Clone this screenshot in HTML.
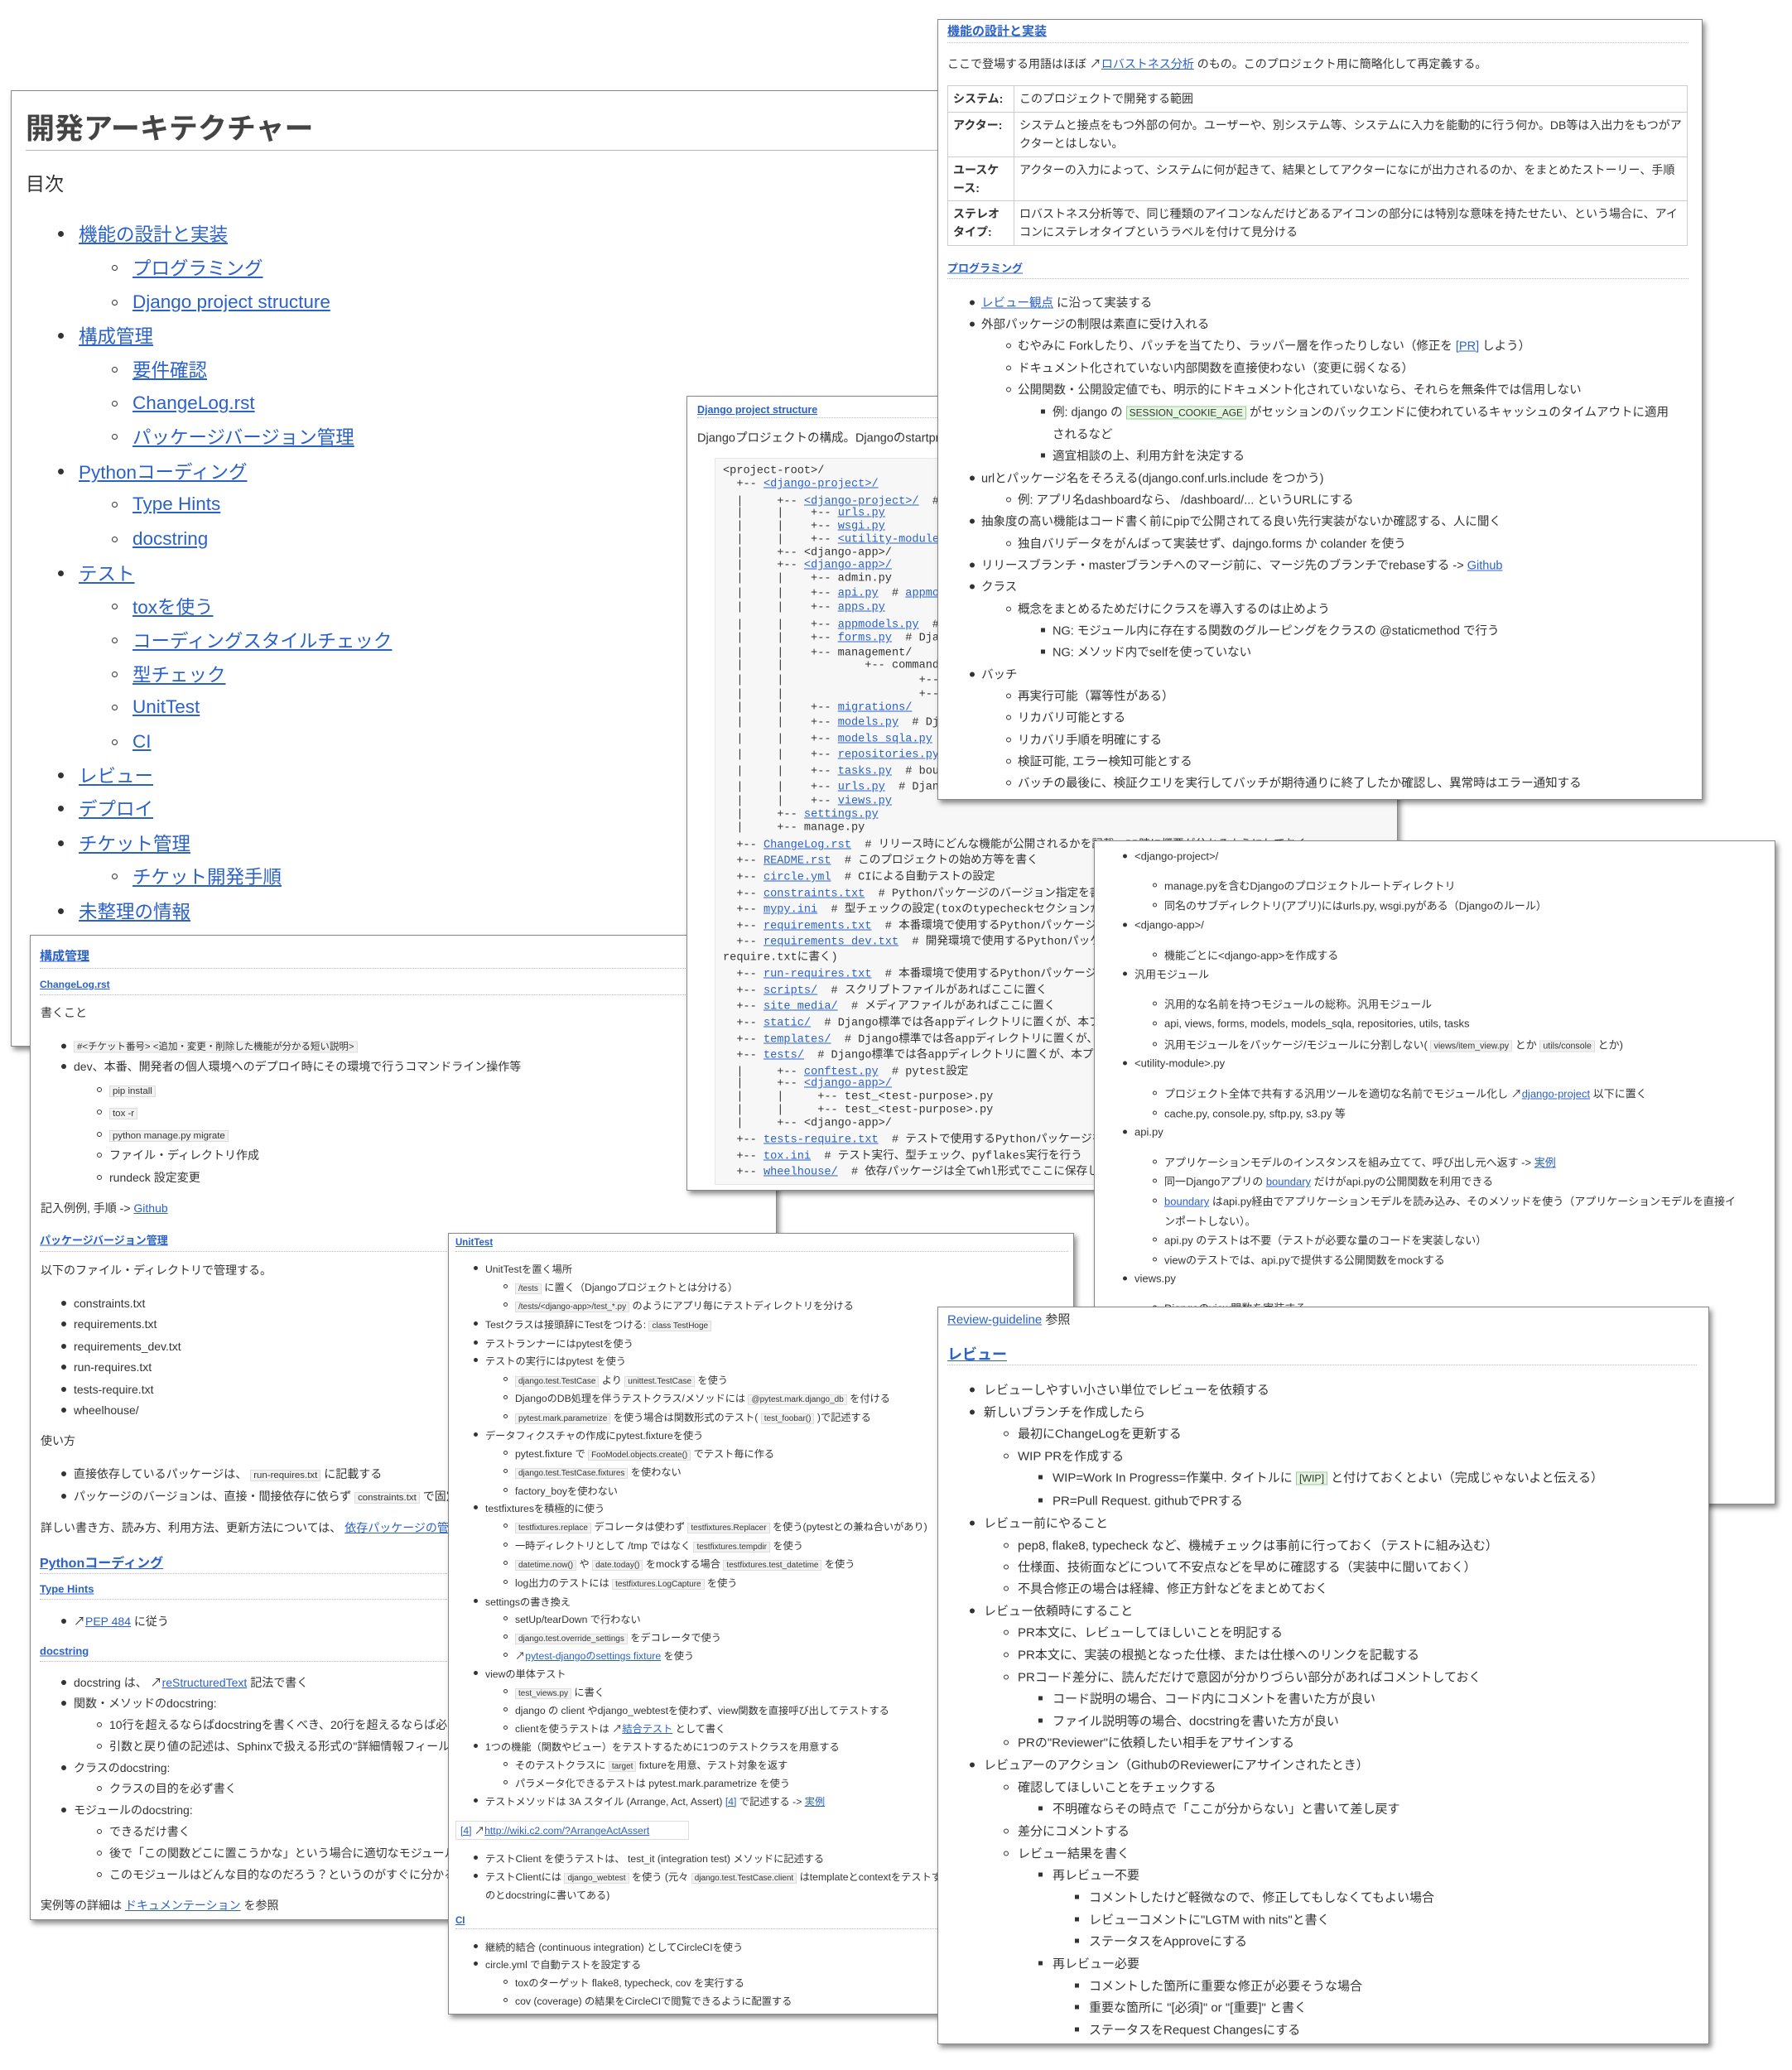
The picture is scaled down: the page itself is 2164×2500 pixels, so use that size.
<!DOCTYPE html>
<html><head><meta charset="utf-8">
<style>
*{margin:0;padding:0;box-sizing:border-box}
body{width:2164px;height:2500px;background:#fff;position:relative;overflow:hidden;font-family:"Liberation Sans","Noto Sans CJK JP",sans-serif;color:#333}
.p{position:absolute;background:#fff;border:1px solid #888;overflow:hidden;box-shadow:3px 4px 6px rgba(0,0,0,.45)}
.in{position:absolute}
.l{position:absolute;white-space:nowrap;transform:translateY(-50%)}
a{color:#2b62c8;text-decoration:underline}
i{position:absolute;top:50%;margin-top:-3px}
.d{width:6px;height:6px;border-radius:50%;background:#333}
.c{width:6px;height:6px;border-radius:50%;border:1px solid #333}
.s{width:5px;height:5px;background:#333}
.pm i{left:-25px;width:7px;height:7px;margin-top:-3px}
.pd i{left:-14px}.pk i{left:-15px}.pu i{left:-14px;width:5px;height:5px}.pj i{left:-14px;width:5px;height:5px}.pr i{left:-17px}
code{font-family:"Liberation Sans","Noto Sans CJK JP",sans-serif;background:#f2f2f2;border:1px solid #ddd;padding:0 3px;font-size:.82em}
.hr{position:absolute;height:0;border-top:1px dotted #bbb}
.h{font-weight:bold}
.cd{font-family:"Liberation Mono","Noto Sans CJK JP",monospace;font-size:13.6px;white-space:pre;color:#333}
.g{background:#e4f7e0;border:1px solid #9c9}
td{border:1px solid #ccc;vertical-align:top;padding:4px 6px;line-height:22px}
</style></head><body>

<!-- main page -->
<div class="p pm" style="left:13px;top:109px;width:1300px;height:1155px">
<div class="in" style="left:-13px;top:-109px;width:2164px;height:2500px">
<div class="l h" style="left:30px;top:152px;font-size:35px;color:#444">開発アーキテクチャー</div>
<div style="position:absolute;left:30px;top:180px;width:1300px;border-top:1px solid #bbb"></div>
<div class="l" style="left:30px;top:219px;font-size:23px">目次</div>
<div style="font-size:22.5px">
<div class="l" style="left:94px;top:281px"><i class="d"></i><a>機能の設計と実装</a></div>
<div class="l" style="left:159px;top:322px"><i class="c"></i><a>プログラミング</a></div>
<div class="l" style="left:159px;top:364px"><i class="c"></i><a>Django project structure</a></div>
<div class="l" style="left:94px;top:404px"><i class="d"></i><a>構成管理</a></div>
<div class="l" style="left:159px;top:445px"><i class="c"></i><a>要件確認</a></div>
<div class="l" style="left:159px;top:486px"><i class="c"></i><a>ChangeLog.rst</a></div>
<div class="l" style="left:159px;top:526px"><i class="c"></i><a>パッケージバージョン管理</a></div>
<div class="l" style="left:94px;top:568px"><i class="d"></i><a>Pythonコーディング</a></div>
<div class="l" style="left:159px;top:608px"><i class="c"></i><a>Type Hints</a></div>
<div class="l" style="left:159px;top:650px"><i class="c"></i><a>docstring</a></div>
<div class="l" style="left:94px;top:691px"><i class="d"></i><a>テスト</a></div>
<div class="l" style="left:159px;top:731px"><i class="c"></i><a>toxを使う</a></div>
<div class="l" style="left:159px;top:772px"><i class="c"></i><a>コーディングスタイルチェック</a></div>
<div class="l" style="left:159px;top:813px"><i class="c"></i><a>型チェック</a></div>
<div class="l" style="left:159px;top:853px"><i class="c"></i><a>UnitTest</a></div>
<div class="l" style="left:159px;top:895px"><i class="c"></i><a>CI</a></div>
<div class="l" style="left:94px;top:935px"><i class="d"></i><a>レビュー</a></div>
<div class="l" style="left:94px;top:975px"><i class="d"></i><a>デプロイ</a></div>
<div class="l" style="left:94px;top:1017px"><i class="d"></i><a>チケット管理</a></div>
<div class="l" style="left:159px;top:1057px"><i class="c"></i><a>チケット開発手順</a></div>
<div class="l" style="left:94px;top:1099px"><i class="d"></i><a>未整理の情報</a></div>
</div></div></div>

<!-- 構成管理 -->
<div class="p pk" style="left:36px;top:1129px;width:902px;height:1190px">
<div class="in" style="left:-36px;top:-1129px;width:2164px;height:2500px;font-size:14px">
<div class="l h" style="left:47px;top:1153px;font-size:15px"><a>構成管理</a></div>
<div class="hr" style="left:47px;top:1168px;width:890px"></div>
<div class="l h" style="left:47px;top:1188px;font-size:12px"><a>ChangeLog.rst</a></div>
<div class="hr" style="left:47px;top:1200px;width:890px"></div>
<div class="l" style="left:48px;top:1222px">書くこと</div>
<div class="l" style="left:88px;top:1262px"><i class="d"></i><code>#&lt;チケット番号&gt; &lt;追加・変更・削除した機能が分かる短い説明&gt;</code></div>
<div class="l" style="left:88px;top:1287px"><i class="d"></i>dev、本番、開発者の個人環境へのデプロイ時にその環境で行うコマンドライン操作等</div>
<div class="l" style="left:131px;top:1315px"><i class="c"></i><code>pip install</code></div>
<div class="l" style="left:131px;top:1342px"><i class="c"></i><code>tox -r</code></div>
<div class="l" style="left:131px;top:1369px"><i class="c"></i><code>python manage.py migrate</code></div>
<div class="l" style="left:131px;top:1394px"><i class="c"></i>ファイル・ディレクトリ作成</div>
<div class="l" style="left:131px;top:1421px"><i class="c"></i>rundeck 設定変更</div>
<div class="l" style="left:48px;top:1458px">記入例例, 手順 -&gt; <a>Github</a></div>
<div class="l h" style="left:47px;top:1496px;font-size:13px"><a>パッケージバージョン管理</a></div>
<div class="hr" style="left:47px;top:1510px;width:890px"></div>
<div class="l" style="left:48px;top:1533px">以下のファイル・ディレクトリで管理する。</div>
<div class="l" style="left:88px;top:1573px"><i class="d"></i>constraints.txt</div>
<div class="l" style="left:88px;top:1598px"><i class="d"></i>requirements.txt</div>
<div class="l" style="left:88px;top:1625px"><i class="d"></i>requirements_dev.txt</div>
<div class="l" style="left:88px;top:1650px"><i class="d"></i>run-requires.txt</div>
<div class="l" style="left:88px;top:1677px"><i class="d"></i>tests-require.txt</div>
<div class="l" style="left:88px;top:1702px"><i class="d"></i>wheelhouse/</div>
<div class="l" style="left:48px;top:1739px">使い方</div>
<div class="l" style="left:88px;top:1779px"><i class="d"></i>直接依存しているパッケージは、 <code>run-requires.txt</code> に記載する</div>
<div class="l" style="left:88px;top:1806px"><i class="d"></i>パッケージのバージョンは、直接・間接依存に依らず <code>constraints.txt</code> で固定する</div>
<div class="l" style="left:48px;top:1844px">詳しい書き方、読み方、利用方法、更新方法については、 <a>依存パッケージの管理</a> を参照</div>
<div class="l h" style="left:47px;top:1885px;font-size:16px"><a>Pythonコーディング</a></div>
<div class="hr" style="left:47px;top:1899px;width:890px"></div>
<div class="l h" style="left:47px;top:1918px;font-size:13px"><a>Type Hints</a></div>
<div class="hr" style="left:47px;top:1930px;width:890px"></div>
<div class="l" style="left:88px;top:1957px"><i class="d"></i>↗<a>PEP 484</a> に従う</div>
<div class="l h" style="left:47px;top:1993px;font-size:13px"><a>docstring</a></div>
<div class="hr" style="left:47px;top:2005px;width:890px"></div>
<div class="l" style="left:88px;top:2031px"><i class="d"></i>docstring は、 ↗<a>reStructuredText</a> 記法で書く</div>
<div class="l" style="left:88px;top:2056px"><i class="d"></i>関数・メソッドのdocstring:</div>
<div class="l" style="left:131px;top:2082px"><i class="c"></i>10行を超えるならばdocstringを書くべき、20行を超えるならば必ず書く</div>
<div class="l" style="left:131px;top:2108px"><i class="c"></i>引数と戻り値の記述は、Sphinxで扱える形式の"詳細情報フィールド"で書く</div>
<div class="l" style="left:88px;top:2134px"><i class="d"></i>クラスのdocstring:</div>
<div class="l" style="left:131px;top:2159px"><i class="c"></i>クラスの目的を必ず書く</div>
<div class="l" style="left:88px;top:2185px"><i class="d"></i>モジュールのdocstring:</div>
<div class="l" style="left:131px;top:2211px"><i class="c"></i>できるだけ書く</div>
<div class="l" style="left:131px;top:2237px"><i class="c"></i>後で「この関数どこに置こうかな」という場合に適切なモジュールを選べるように</div>
<div class="l" style="left:131px;top:2263px"><i class="c"></i>このモジュールはどんな目的なのだろう？というのがすぐに分かるように</div>
<div class="l" style="left:48px;top:2300px">実例等の詳細は <a>ドキュメンテーション</a> を参照</div>
</div></div>

<!-- Django project structure -->
<div class="p" style="left:829px;top:478px;width:859px;height:960px">
<div class="in" style="left:-829px;top:-478px;width:2164px;height:2500px">
<div class="l h" style="left:841px;top:494px;font-size:12.5px"><a>Django project structure</a></div>
<div class="hr" style="left:841px;top:503px;width:840px"></div>
<div class="l" style="left:841px;top:527px;font-size:14.5px">Djangoプロジェクトの構成。Djangoのstartprojectで作成される構成をベースにしている。</div>
<div style="position:absolute;left:862px;top:552px;width:840px;height:878px;background:#f7f7f7;border:1px solid #e6e6e6"></div>
<div class="l cd" style="left:872px;top:568px">&lt;project-root&gt;/</div>
<div class="l cd" style="left:872px;top:584px">  +-- <a>&lt;django-project&gt;/</a></div>
<div class="l cd" style="left:872px;top:602px">  |     +-- <a>&lt;django-project&gt;/</a>  # プロジェクト設定</div>
<div class="l cd" style="left:872px;top:619px">  |     |    +-- <a>urls.py</a></div>
<div class="l cd" style="left:872px;top:635px">  |     |    +-- <a>wsgi.py</a></div>
<div class="l cd" style="left:872px;top:651px">  |     |    +-- <a>&lt;utility-module&gt;.py</a></div>
<div class="l cd" style="left:872px;top:667px">  |     +-- &lt;django-app&gt;/</div>
<div class="l cd" style="left:872px;top:682px">  |     +-- <a>&lt;django-app&gt;/</a></div>
<div class="l cd" style="left:872px;top:698px">  |     |    +-- admin.py</div>
<div class="l cd" style="left:872px;top:716px">  |     |    +-- <a>api.py</a>  # <a>appmodels</a></div>
<div class="l cd" style="left:872px;top:733px">  |     |    +-- <a>apps.py</a></div>
<div class="l cd" style="left:872px;top:751px">  |     |    +-- <a>appmodels.py</a>  # アプリケーションモデル</div>
<div class="l cd" style="left:872px;top:770px">  |     |    +-- <a>forms.py</a>  # Django Form</div>
<div class="l cd" style="left:872px;top:788px">  |     |    +-- management/</div>
<div class="l cd" style="left:872px;top:803px">  |     |            +-- commands/</div>
<div class="l cd" style="left:872px;top:821px">  |     |                    +-- __init__.py</div>
<div class="l cd" style="left:872px;top:838px">  |     |                    +-- command.py</div>
<div class="l cd" style="left:872px;top:854px">  |     |    +-- <a>migrations/</a></div>
<div class="l cd" style="left:872px;top:872px">  |     |    +-- <a>models.py</a>  # Django Model</div>
<div class="l cd" style="left:872px;top:892px">  |     |    +-- <a>models_sqla.py</a></div>
<div class="l cd" style="left:872px;top:911px">  |     |    +-- <a>repositories.py</a></div>
<div class="l cd" style="left:872px;top:931px">  |     |    +-- <a>tasks.py</a>  # boundary</div>
<div class="l cd" style="left:872px;top:950px">  |     |    +-- <a>urls.py</a>  # Django URL</div>
<div class="l cd" style="left:872px;top:967px">  |     |    +-- <a>views.py</a></div>
<div class="l cd" style="left:872px;top:983px">  |     +-- <a>settings.py</a></div>
<div class="l cd" style="left:872px;top:999px">  |     +-- manage.py</div>
<div class="l cd" style="left:872px;top:1017px">  +-- <a>ChangeLog.rst</a>  # リリース時にどんな機能が公開されるかを記載。PR時に概要が分かるようにしておく</div>
<div class="l cd" style="left:872px;top:1036px">  +-- <a>README.rst</a>  # このプロジェクトの始め方等を書く</div>
<div class="l cd" style="left:872px;top:1056px">  +-- <a>circle.yml</a>  # CIによる自動テストの設定</div>
<div class="l cd" style="left:872px;top:1076px">  +-- <a>constraints.txt</a>  # Pythonパッケージのバージョン指定を書く</div>
<div class="l cd" style="left:872px;top:1095px">  +-- <a>mypy.ini</a>  # 型チェックの設定(toxのtypecheckセクションから参照)</div>
<div class="l cd" style="left:872px;top:1115px">  +-- <a>requirements.txt</a>  # 本番環境で使用するPythonパッケージを書く</div>
<div class="l cd" style="left:872px;top:1134px">  +-- <a>requirements_dev.txt</a>  # 開発環境で使用するPythonパッケージを書く(tests-</div>
<div class="l cd" style="left:872px;top:1153px">require.txtに書く)</div>
<div class="l cd" style="left:872px;top:1173px">  +-- <a>run-requires.txt</a>  # 本番環境で使用するPythonパッケージを書く</div>
<div class="l cd" style="left:872px;top:1193px">  +-- <a>scripts/</a>  # スクリプトファイルがあればここに置く</div>
<div class="l cd" style="left:872px;top:1212px">  +-- <a>site_media/</a>  # メディアファイルがあればここに置く</div>
<div class="l cd" style="left:872px;top:1232px">  +-- <a>static/</a>  # Django標準では各appディレクトリに置くが、本プロジェクトではここに置く</div>
<div class="l cd" style="left:872px;top:1252px">  +-- <a>templates/</a>  # Django標準では各appディレクトリに置くが、本プロジェクトではここに置く</div>
<div class="l cd" style="left:872px;top:1271px">  +-- <a>tests/</a>  # Django標準では各appディレクトリに置くが、本プロジェクトではここに置く</div>
<div class="l cd" style="left:872px;top:1291px">  |     +-- <a>conftest.py</a>  # pytest設定</div>
<div class="l cd" style="left:872px;top:1308px">  |     +-- <a>&lt;django-app&gt;/</a></div>
<div class="l cd" style="left:872px;top:1324px">  |     |     +-- test_&lt;test-purpose&gt;.py</div>
<div class="l cd" style="left:872px;top:1340px">  |     |     +-- test_&lt;test-purpose&gt;.py</div>
<div class="l cd" style="left:872px;top:1356px">  |     +-- &lt;django-app&gt;/</div>
<div class="l cd" style="left:872px;top:1373px">  +-- <a>tests-require.txt</a>  # テストで使用するPythonパッケージを書く</div>
<div class="l cd" style="left:872px;top:1393px">  +-- <a>tox.ini</a>  # テスト実行、型チェック、pyflakes実行を行う</div>
<div class="l cd" style="left:872px;top:1412px">  +-- <a>wheelhouse/</a>  # 依存パッケージは全てwhl形式でここに保存しリポジトリに含める</div>
</div></div>

<!-- 機能の設計と実装 -->
<div class="p pd" style="left:1132px;top:23px;width:924px;height:943px">
<div class="in" style="left:-1132px;top:-23px;width:2164px;height:2500px;font-size:14.5px">
<div class="l h" style="left:1143px;top:36px;font-size:15px"><a>機能の設計と実装</a></div>
<div class="hr" style="left:1143px;top:50px;width:895px"></div>
<div class="l" style="left:1143px;top:76px;font-size:14px">ここで登場する用語はほぼ ↗<a>ロバストネス分析</a> のもの。このプロジェクト用に簡略化して再定義する。</div>
<table style="position:absolute;left:1143px;top:102px;width:894px;border-collapse:collapse;font-size:14px">
<tr style="height:32px"><td class="h" style="width:80px">システム:</td><td>このプロジェクトで開発する範囲</td></tr>
<tr style="height:54px"><td class="h">アクター:</td><td>システムと接点をもつ外部の何か。ユーザーや、別システム等、システムに入力を能動的に行う何か。DB等は入出力をもつがアクターとはしない。</td></tr>
<tr style="height:53px"><td class="h">ユースケース:</td><td>アクターの入力によって、システムに何が起きて、結果としてアクターになにが出力されるのか、をまとめたストーリー、手順</td></tr>
<tr style="height:54px"><td class="h">ステレオタイプ:</td><td>ロバストネス分析等で、同じ種類のアイコンなんだけどあるアイコンの部分には特別な意味を持たせたい、という場合に、アイコンにステレオタイプというラベルを付けて見分ける</td></tr>
</table>
<div class="l h" style="left:1143px;top:322px;font-size:13px"><a>プログラミング</a></div>
<div class="hr" style="left:1143px;top:335px;width:895px"></div>
<div class="l" style="left:1184px;top:364px"><i class="d"></i><a>レビュー観点</a> に沿って実装する</div>
<div class="l" style="left:1184px;top:390px"><i class="d"></i>外部パッケージの制限は素直に受け入れる</div>
<div class="l" style="left:1228px;top:416px"><i class="c"></i>むやみに Forkしたり、パッチを当てたり、ラッパー層を作ったりしない（修正を <a>[PR]</a> しよう）</div>
<div class="l" style="left:1228px;top:443px"><i class="c"></i>ドキュメント化されていない内部関数を直接使わない（変更に弱くなる）</div>
<div class="l" style="left:1228px;top:469px"><i class="c"></i>公開関数・公開設定値でも、明示的にドキュメント化されていないなら、それらを無条件では信用しない</div>
<div class="l" style="left:1270px;top:496px"><i class="s"></i>例: django の <code class="g">SESSION_COOKIE_AGE</code> がセッションのバックエンドに使われているキャッシュのタイムアウトに適用</div>
<div class="l" style="left:1270px;top:523px">されるなど</div>
<div class="l" style="left:1270px;top:549px"><i class="s"></i>適宜相談の上、利用方針を決定する</div>
<div class="l" style="left:1184px;top:576px"><i class="d"></i>urlとパッケージ名をそろえる(django.conf.urls.include をつかう)</div>
<div class="l" style="left:1228px;top:602px"><i class="c"></i>例: アプリ名dashboardなら、 /dashboard/... というURLにする</div>
<div class="l" style="left:1184px;top:628px"><i class="d"></i>抽象度の高い機能はコード書く前にpipで公開されてる良い先行実装がないか確認する、人に聞く</div>
<div class="l" style="left:1228px;top:655px"><i class="c"></i>独自バリデータをがんばって実装せず、dajngo.forms か colander を使う</div>
<div class="l" style="left:1184px;top:681px"><i class="d"></i>リリースブランチ・masterブランチへのマージ前に、マージ先のブランチでrebaseする -&gt; <a>Github</a></div>
<div class="l" style="left:1184px;top:707px"><i class="d"></i>クラス</div>
<div class="l" style="left:1228px;top:734px"><i class="c"></i>概念をまとめるためだけにクラスを導入するのは止めよう</div>
<div class="l" style="left:1270px;top:760px"><i class="s"></i>NG: モジュール内に存在する関数のグルーピングをクラスの @staticmethod で行う</div>
<div class="l" style="left:1270px;top:786px"><i class="s"></i>NG: メソッド内でselfを使っていない</div>
<div class="l" style="left:1184px;top:813px"><i class="d"></i>バッチ</div>
<div class="l" style="left:1228px;top:839px"><i class="c"></i>再実行可能（冪等性がある）</div>
<div class="l" style="left:1228px;top:865px"><i class="c"></i>リカバリ可能とする</div>
<div class="l" style="left:1228px;top:892px"><i class="c"></i>リカバリ手順を明確にする</div>
<div class="l" style="left:1228px;top:918px"><i class="c"></i>検証可能, エラー検知可能とする</div>
<div class="l" style="left:1228px;top:944px"><i class="c"></i>バッチの最後に、検証クエリを実行してバッチが期待通りに終了したか確認し、異常時はエラー通知する</div>
</div></div>

<!-- django-project panel -->
<div class="p pj" style="left:1321px;top:1015px;width:823px;height:802px">
<div class="in" style="left:-1321px;top:-1015px;width:2164px;height:2500px;font-size:13px">
<div class="l" style="left:1369px;top:1033px"><i class="d"></i>&lt;django-project&gt;/</div>
<div class="l" style="left:1405px;top:1068px"><i class="c"></i>manage.pyを含むDjangoのプロジェクトルートディレクトリ</div>
<div class="l" style="left:1405px;top:1092px"><i class="c"></i>同名のサブディレクトリ(アプリ)にはurls.py, wsgi.pyがある（Djangoのルール）</div>
<div class="l" style="left:1369px;top:1116px"><i class="d"></i>&lt;django-app&gt;/</div>
<div class="l" style="left:1405px;top:1152px"><i class="c"></i>機能ごとに&lt;django-app&gt;を作成する</div>
<div class="l" style="left:1369px;top:1175px"><i class="d"></i>汎用モジュール</div>
<div class="l" style="left:1405px;top:1211px"><i class="c"></i>汎用的な名前を持つモジュールの総称。汎用モジュール</div>
<div class="l" style="left:1405px;top:1235px"><i class="c"></i>api, views, forms, models, models_sqla, repositories, utils, tasks</div>
<div class="l" style="left:1405px;top:1260px"><i class="c"></i>汎用モジュールをパッケージ/モジュールに分割しない( <code>views/item_view.py</code> とか <code>utils/console</code> とか)</div>
<div class="l" style="left:1369px;top:1283px"><i class="d"></i>&lt;utility-module&gt;.py</div>
<div class="l" style="left:1405px;top:1319px"><i class="c"></i>プロジェクト全体で共有する汎用ツールを適切な名前でモジュール化し ↗<a>django-project</a> 以下に置く</div>
<div class="l" style="left:1405px;top:1343px"><i class="c"></i>cache.py, console.py, sftp.py, s3.py 等</div>
<div class="l" style="left:1369px;top:1366px"><i class="d"></i>api.py</div>
<div class="l" style="left:1405px;top:1402px"><i class="c"></i>アプリケーションモデルのインスタンスを組み立てて、呼び出し元へ返す -&gt; <a>実例</a></div>
<div class="l" style="left:1405px;top:1425px"><i class="c"></i>同一Djangoアプリの <a>boundary</a> だけがapi.pyの公開関数を利用できる</div>
<div class="l" style="left:1405px;top:1449px"><i class="c"></i><a>boundary</a> はapi.py経由でアプリケーションモデルを読み込み、そのメソッドを使う（アプリケーションモデルを直接イ</div>
<div class="l" style="left:1405px;top:1473px">ンポートしない）。</div>
<div class="l" style="left:1405px;top:1496px"><i class="c"></i>api.py のテストは不要（テストが必要な量のコードを実装しない）</div>
<div class="l" style="left:1405px;top:1520px"><i class="c"></i>viewのテストでは、api.pyで提供する公開関数をmockする</div>
<div class="l" style="left:1369px;top:1543px"><i class="d"></i>views.py</div>
<div class="l" style="left:1405px;top:1578px"><i class="c"></i>Djangoのview関数を実装する</div>
</div></div>

<!-- UnitTest -->
<div class="p pu" style="left:541px;top:1489px;width:756px;height:944px">
<div class="in" style="left:-541px;top:-1489px;width:2164px;height:2500px;font-size:12.2px">
<div class="l h" style="left:549px;top:1500px;font-size:11.5px"><a>UnitTest</a></div>
<div class="hr" style="left:549px;top:1510px;width:740px"></div>
<div class="l" style="left:585px;top:1531px"><i class="d"></i>UnitTestを置く場所</div>
<div class="l" style="left:621px;top:1553px"><i class="c"></i><code>/tests</code> に置く（Djangoプロジェクトとは分ける）</div>
<div class="l" style="left:621px;top:1575px"><i class="c"></i><code>/tests/&lt;django-app&gt;/test_*.py</code> のようにアプリ毎にテストディレクトリを分ける</div>
<div class="l" style="left:585px;top:1598px"><i class="d"></i>Testクラスは接頭辞にTestをつける: <code>class TestHoge</code></div>
<div class="l" style="left:585px;top:1621px"><i class="d"></i>テストランナーにはpytestを使う</div>
<div class="l" style="left:585px;top:1642px"><i class="d"></i>テストの実行にはpytest を使う</div>
<div class="l" style="left:621px;top:1665px"><i class="c"></i><code>django.test.TestCase</code> より <code>unittest.TestCase</code> を使う</div>
<div class="l" style="left:621px;top:1687px"><i class="c"></i>DjangoのDB処理を伴うテストクラス/メソッドには <code>@pytest.mark.django_db</code> を付ける</div>
<div class="l" style="left:621px;top:1710px"><i class="c"></i><code>pytest.mark.parametrize</code> を使う場合は関数形式のテスト( <code>test_foobar()</code> )で記述する</div>
<div class="l" style="left:585px;top:1732px"><i class="d"></i>データフィクスチャの作成にpytest.fixtureを使う</div>
<div class="l" style="left:621px;top:1754px"><i class="c"></i>pytest.fixture で <code>FooModel.objects.create()</code> でテスト毎に作る</div>
<div class="l" style="left:621px;top:1776px"><i class="c"></i><code>django.test.TestCase.fixtures</code> を使わない</div>
<div class="l" style="left:621px;top:1799px"><i class="c"></i>factory_boyを使わない</div>
<div class="l" style="left:585px;top:1820px"><i class="d"></i>testfixturesを積極的に使う</div>
<div class="l" style="left:621px;top:1842px"><i class="c"></i><code>testfixtures.replace</code> デコレータは使わず <code>testfixtures.Replacer</code> を使う(pytestとの兼ね合いがあり)</div>
<div class="l" style="left:621px;top:1865px"><i class="c"></i>一時ディレクトリとして /tmp ではなく <code>testfixtures.tempdir</code> を使う</div>
<div class="l" style="left:621px;top:1887px"><i class="c"></i><code>datetime.now()</code> や <code>date.today()</code> をmockする場合 <code>testfixtures.test_datetime</code> を使う</div>
<div class="l" style="left:621px;top:1910px"><i class="c"></i>log出力のテストには <code>testfixtures.LogCapture</code> を使う</div>
<div class="l" style="left:585px;top:1933px"><i class="d"></i>settingsの書き換え</div>
<div class="l" style="left:621px;top:1954px"><i class="c"></i>setUp/tearDown で行わない</div>
<div class="l" style="left:621px;top:1976px"><i class="c"></i><code>django.test.override_settings</code> をデコレータで使う</div>
<div class="l" style="left:621px;top:1998px"><i class="c"></i>↗<a>pytest-djangoのsettings fixture</a> を使う</div>
<div class="l" style="left:585px;top:2020px"><i class="d"></i>viewの単体テスト</div>
<div class="l" style="left:621px;top:2042px"><i class="c"></i><code>test_views.py</code> に書く</div>
<div class="l" style="left:621px;top:2064px"><i class="c"></i>django の client やdjango_webtestを使わず、view関数を直接呼び出してテストする</div>
<div class="l" style="left:621px;top:2086px"><i class="c"></i>clientを使うテストは ↗<a>結合テスト</a> として書く</div>
<div class="l" style="left:585px;top:2108px"><i class="d"></i>1つの機能（関数やビュー）をテストするために1つのテストクラスを用意する</div>
<div class="l" style="left:621px;top:2130px"><i class="c"></i>そのテストクラスに <code>target</code> fixtureを用意、テスト対象を返す</div>
<div class="l" style="left:621px;top:2152px"><i class="c"></i>パラメータ化できるテストは pytest.mark.parametrize を使う</div>
<div class="l" style="left:585px;top:2174px"><i class="d"></i>テストメソッドは 3A スタイル (Arrange, Act, Assert) <a>[4]</a> で記述する -&gt; <a>実例</a></div>
<div style="position:absolute;left:549px;top:2198px;width:282px;height:23px;border:1px solid #ddd"></div>
<div class="l" style="left:555px;top:2209px"><a>[4]</a> ↗<a>http://wiki.c2.com/?ArrangeActAssert</a></div>
<div class="l" style="left:585px;top:2243px"><i class="d"></i>テストClient を使うテストは、 test_it (integration test) メソッドに記述する</div>
<div class="l" style="left:585px;top:2265px"><i class="d"></i>テストClientには <code>django_webtest</code> を使う (元々 <code>django.test.TestCase.client</code> はtemplateとcontextをテストするため</div>
<div class="l" style="left:585px;top:2287px">のとdocstringに書いてある)</div>
<div class="l h" style="left:549px;top:2319px;font-size:11.5px"><a>CI</a></div>
<div class="hr" style="left:549px;top:2328px;width:740px"></div>
<div class="l" style="left:585px;top:2350px"><i class="d"></i>継続的結合 (continuous integration) としてCircleCIを使う</div>
<div class="l" style="left:585px;top:2371px"><i class="d"></i>circle.yml で自動テストを設定する</div>
<div class="l" style="left:621px;top:2393px"><i class="c"></i>toxのターゲット flake8, typecheck, cov を実行する</div>
<div class="l" style="left:621px;top:2415px"><i class="c"></i>cov (coverage) の結果をCircleCIで閲覧できるように配置する</div>
</div></div>

<!-- Review -->
<div class="p pr" style="left:1132px;top:1578px;width:932px;height:891px">
<div class="in" style="left:-1132px;top:-1578px;width:2164px;height:2500px;font-size:15px">
<div class="l" style="left:1143px;top:1592px;font-size:15px"><a>Review-guideline</a> 参照</div>
<div class="l h" style="left:1143px;top:1634px;font-size:18px"><a>レビュー</a></div>
<div class="hr" style="left:1143px;top:1647px;width:905px"></div>
<div class="l" style="left:1187px;top:1677px"><i class="d"></i>レビューしやすい小さい単位でレビューを依頼する</div>
<div class="l" style="left:1187px;top:1704px"><i class="d"></i>新しいブランチを作成したら</div>
<div class="l" style="left:1228px;top:1730px"><i class="c"></i>最初にChangeLogを更新する</div>
<div class="l" style="left:1228px;top:1757px"><i class="c"></i>WIP PRを作成する</div>
<div class="l" style="left:1270px;top:1783px"><i class="s"></i>WIP=Work In Progress=作業中. タイトルに <code class="g">[WIP]</code> と付けておくとよい（完成じゃないよと伝える）</div>
<div class="l" style="left:1270px;top:1811px"><i class="s"></i>PR=Pull Request. githubでPRする</div>
<div class="l" style="left:1187px;top:1838px"><i class="d"></i>レビュー前にやること</div>
<div class="l" style="left:1228px;top:1865px"><i class="c"></i>pep8, flake8, typecheck など、機械チェックは事前に行っておく（テストに組み込む）</div>
<div class="l" style="left:1228px;top:1891px"><i class="c"></i>仕様面、技術面などについて不安点などを早めに確認する（実装中に聞いておく）</div>
<div class="l" style="left:1228px;top:1917px"><i class="c"></i>不具合修正の場合は経緯、修正方針などをまとめておく</div>
<div class="l" style="left:1187px;top:1944px"><i class="d"></i>レビュー依頼時にすること</div>
<div class="l" style="left:1228px;top:1970px"><i class="c"></i>PR本文に、レビューしてほしいことを明記する</div>
<div class="l" style="left:1228px;top:1997px"><i class="c"></i>PR本文に、実装の根拠となった仕様、または仕様へのリンクを記載する</div>
<div class="l" style="left:1228px;top:2024px"><i class="c"></i>PRコード差分に、読んだだけで意図が分かりづらい部分があればコメントしておく</div>
<div class="l" style="left:1270px;top:2050px"><i class="s"></i>コード説明の場合、コード内にコメントを書いた方が良い</div>
<div class="l" style="left:1270px;top:2077px"><i class="s"></i>ファイル説明等の場合、docstringを書いた方が良い</div>
<div class="l" style="left:1228px;top:2103px"><i class="c"></i>PRの"Reviewer"に依頼したい相手をアサインする</div>
<div class="l" style="left:1187px;top:2130px"><i class="d"></i>レビュアーのアクション（GithubのReviewerにアサインされたとき）</div>
<div class="l" style="left:1228px;top:2157px"><i class="c"></i>確認してほしいことをチェックする</div>
<div class="l" style="left:1270px;top:2183px"><i class="s"></i>不明確ならその時点で「ここが分からない」と書いて差し戻す</div>
<div class="l" style="left:1228px;top:2210px"><i class="c"></i>差分にコメントする</div>
<div class="l" style="left:1228px;top:2237px"><i class="c"></i>レビュー結果を書く</div>
<div class="l" style="left:1270px;top:2263px"><i class="s"></i>再レビュー不要</div>
<div class="l" style="left:1314px;top:2290px"><i class="s"></i>コメントしたけど軽微なので、修正してもしなくてもよい場合</div>
<div class="l" style="left:1314px;top:2317px"><i class="s"></i>レビューコメントに"LGTM with nits"と書く</div>
<div class="l" style="left:1314px;top:2343px"><i class="s"></i>ステータスをApproveにする</div>
<div class="l" style="left:1270px;top:2370px"><i class="s"></i>再レビュー必要</div>
<div class="l" style="left:1314px;top:2397px"><i class="s"></i>コメントした箇所に重要な修正が必要そうな場合</div>
<div class="l" style="left:1314px;top:2423px"><i class="s"></i>重要な箇所に "[必須]" or "[重要]" と書く</div>
<div class="l" style="left:1314px;top:2450px"><i class="s"></i>ステータスをRequest Changesにする</div>
</div></div>

</body></html>
